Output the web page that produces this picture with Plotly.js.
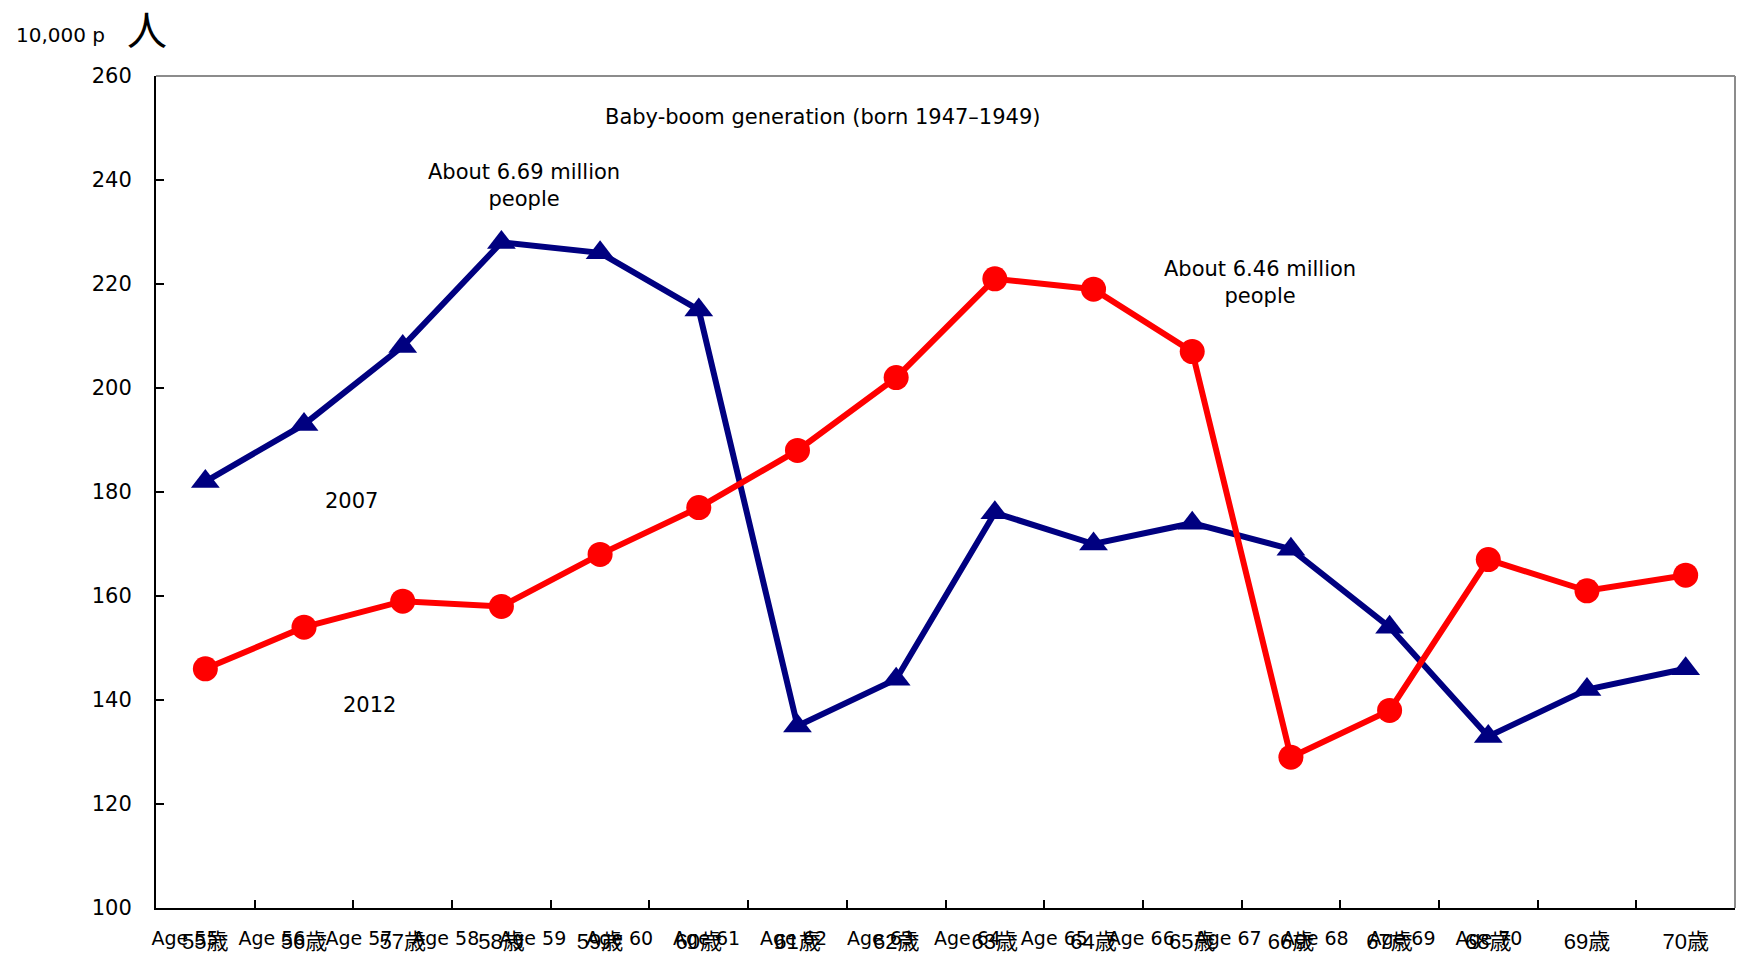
<!DOCTYPE html>
<html>
<head>
<meta charset="utf-8">
<script src="https://cdn.plot.ly/plotly-3.0.1.min.js"></script>
<style>html,body{margin:0;padding:0;background:#fff;}#chart{width:1737px;height:955px;}</style>
</head>
<body>
<div id="chart"></div>
<script>
const categories = ["55歳","56歳","57歳","58歳","59歳","60歳","61歳","62歳","63歳","64歳","65歳","66歳","67歳","68歳","69歳","70歳"];
const ageLabels = ["Age 55","Age 56","Age 57","Age 58","Age 59","Age 60","Age 61","Age 62","Age 63","Age 64","Age 65","Age 66","Age 67","Age 68","Age 69","Age 70"];
const ageIndex = [0,1,2,3,4,5,6,7,8,9,10,11,12,13,14,15];
const series2007 = [182,193,208,228,226,215,135,144,176,170,174,169,154,133,142,146];
const series2012 = [146,154,159,158,168,177,188,202,221,219,207,129,138,167,161,164];
const yTicks = [100,120,140,160,180,200,220,240,260];

const FONT = "DejaVu Sans, Liberation Sans, Arial, sans-serif";
const JFONT = "Liberation Sans, Noto Sans CJK JP, sans-serif";

const traces = [
  {
    x: categories, y: series2007, type: "scatter", mode: "lines+markers", name: "2007",
    line: {color: "#000080", width: 6},
    marker: {symbol: "triangle-up", size: 25, color: "#000080"},
    hoverinfo: "x+y", showlegend: false
  },
  {
    x: categories, y: series2012, type: "scatter", mode: "lines+markers", name: "2012",
    line: {color: "#FF0000", width: 6},
    marker: {symbol: "circle", size: 25, color: "#FF0000"},
    hoverinfo: "x+y", showlegend: false
  },
  {
    x: [], y: [], xaxis: "x2", yaxis: "y", type: "scatter", mode: "markers",
    showlegend: false, hoverinfo: "skip"
  }
];

const layout = {
  width: 1737, height: 955,
  margin: {l: 156, r: 2, t: 76, b: 47, pad: 0},
  paper_bgcolor: "#ffffff", plot_bgcolor: "#ffffff",
  showlegend: false,
  font: {family: FONT, color: "#000000"},
  xaxis: {
    type: "category", categoryorder: "array", categoryarray: categories,
    range: [-0.5, 15.5], tickson: "boundaries",
    ticks: "inside", ticklen: 8, tickwidth: 2, tickcolor: "#000000",
    showline: true, linecolor: "#000000", linewidth: 2,
    showgrid: false, zeroline: false,
    tickfont: {family: JFONT, size: 22, color: "#000000"},
    ticklabelstandoff: 13,
    fixedrange: true
  },
  xaxis2: {
    overlaying: "x", anchor: "y", side: "bottom", type: "linear",
    range: [-0.3337, 17.830],
    tickmode: "array", tickvals: ageIndex, ticktext: ageLabels,
    ticks: "", showline: false, showgrid: false, zeroline: false,
    tickfont: {family: FONT, size: 19, color: "#000000"},
    ticklabelstandoff: 17,
    fixedrange: true
  },
  yaxis: {
    range: [100, 260], tickmode: "array", tickvals: yTicks,
    ticks: "inside", ticklen: 8, tickwidth: 2, tickcolor: "#000000",
    showline: true, linecolor: "#000000", linewidth: 2,
    showgrid: false, zeroline: false,
    tickfont: {family: FONT, size: 21, color: "#000000"},
    ticklabelstandoff: 18,
    fixedrange: true
  },
  shapes: [
    {type: "line", xref: "paper", yref: "paper", x0: 0, x1: 1, y0: 1, y1: 1, line: {color: "#8c8c8c", width: 2}},
    {type: "line", xref: "paper", yref: "paper", x0: 1, x1: 1, y0: 0, y1: 1, line: {color: "#8c8c8c", width: 2}}
  ],
  annotations: [
    {text: "10,000 p", xref: "paper", yref: "paper", x: -0.0899, y: 1.0493, xanchor: "left", yanchor: "middle", showarrow: false, font: {family: FONT, size: 20, color: "#000"}},
    {text: "人", xref: "paper", yref: "paper", x: -0.0057, y: 1.0577, xanchor: "center", yanchor: "middle", showarrow: false, font: {family: "Noto Sans CJK JP, sans-serif", size: 40, color: "#000"}},
    {text: "Baby-boom generation (born 1947–1949)", xref: "x", yref: "y", x: 6.25, y: 252.1, xanchor: "center", yanchor: "middle", showarrow: false, font: {family: FONT, size: 21, color: "#000"}},
    {text: "About 6.69 million<br>people", xref: "x", yref: "y", x: 3.23, y: 239, xanchor: "center", yanchor: "middle", showarrow: false, font: {family: FONT, size: 21, color: "#000"}},
    {text: "About 6.46 million<br>people", xref: "x", yref: "y", x: 10.69, y: 220.2, xanchor: "center", yanchor: "middle", showarrow: false, font: {family: FONT, size: 21, color: "#000"}},
    {text: "2007", xref: "x", yref: "y", x: 1.48, y: 178.3, xanchor: "center", yanchor: "middle", showarrow: false, font: {family: FONT, size: 21, color: "#000"}},
    {text: "2012", xref: "x", yref: "y", x: 1.66, y: 139, xanchor: "center", yanchor: "middle", showarrow: false, font: {family: FONT, size: 21, color: "#000"}}
  ]
};

Plotly.newPlot("chart", traces, layout, {displayModeBar: false, staticPlot: true});
</script>
</body>
</html>
